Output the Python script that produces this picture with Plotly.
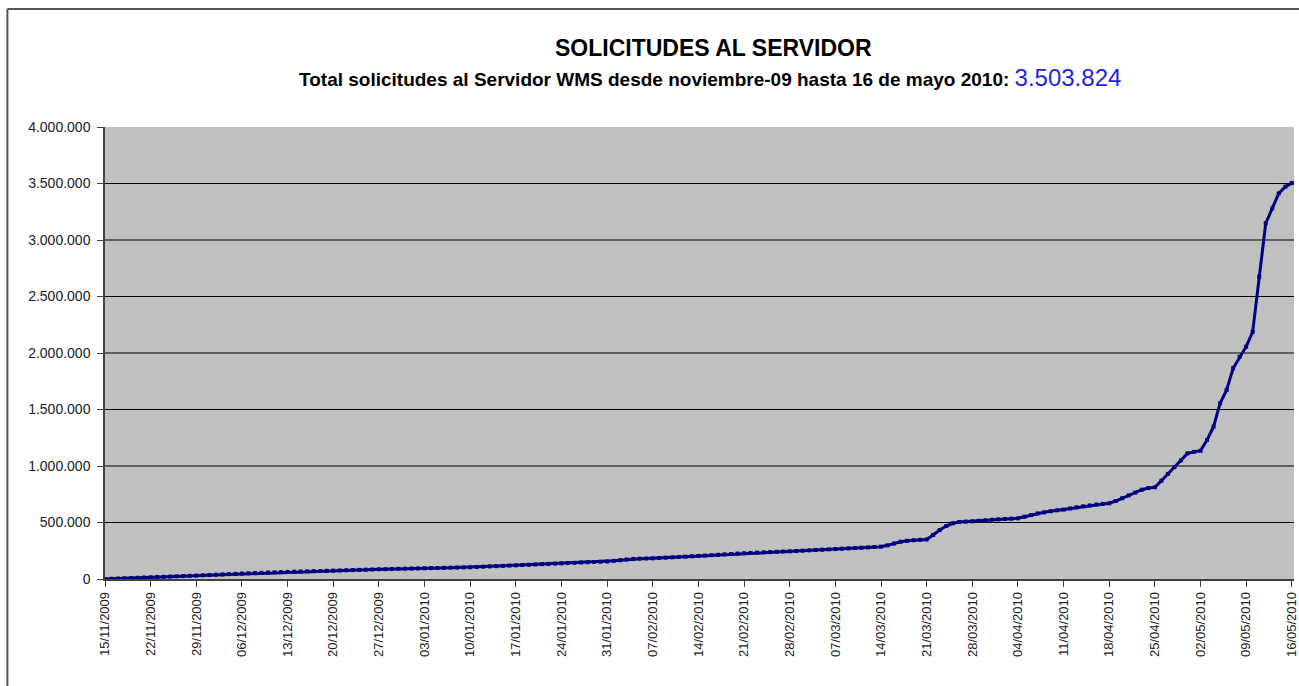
import plotly.graph_objects as go
import pandas as pd

# ---- data (daily cumulative requests, 15/11/2009 .. 16/05/2010) ----
start_date = "2009-11-15"
end_date = "2010-05-16"
requests = [
    0, 2100, 4300, 6500, 8600, 10800, 12900,
    15000, 17100, 19300, 21400, 23600, 25800, 27900,
    30000, 32600, 35200, 37800, 40500, 43100, 45600,
    48000, 50200, 52400, 54500, 56800, 59000, 61000,
    63000, 64600, 66200, 67800, 69400, 71000, 72500,
    74000, 75700, 77400, 79100, 80800, 82500, 84200,
    86000, 87300, 88600, 89900, 91200, 92500, 93800,
    95000, 96300, 97600, 98900, 100200, 101500, 102800,
    104000, 106400, 108800, 111300, 113800, 116300, 118700,
    121000, 123600, 126200, 128800, 131400, 134000, 136500,
    139000, 141300, 143600, 145900, 148200, 150500, 152800,
    155000, 160500, 166200, 172000, 178000, 180000, 181500,
    183000, 186000, 189000, 192000, 195000, 198000, 201000,
    204000, 207500, 211000, 214500, 218000, 221500, 225000,
    228000, 230500, 233000, 235500, 238000, 240500, 243000,
    245000, 248000, 250800, 253700, 256600, 259400, 262200,
    265000, 268000, 271000, 274000, 277000, 280000, 283000,
    286000, 298000, 314000, 330000, 338000, 343000, 347000,
    350000, 390000, 434000, 469000, 493000, 505000, 508000,
    510000, 515000, 520000, 524000, 528000, 531000, 534000,
    537000, 551000, 566000, 580000, 590000, 600000, 608000,
    614000, 624000, 634000, 643000, 651000, 659000, 665000,
    670000, 690000, 715000, 740000, 765000, 790000, 805000,
    812000, 870000, 930000, 990000, 1050000, 1112000, 1125000,
    1135000, 1230000, 1348000, 1555000, 1673000, 1865000, 1967000,
    2056000, 2188000, 2675000, 3148000, 3280000, 3413000, 3472000,
    3503824,
]
dates = pd.date_range(start_date, end_date, freq="D")

y_ticks = [0, 500000, 1000000, 1500000, 2000000, 2500000, 3000000, 3500000, 4000000]
y_labels = ["0", "500.000", "1.000.000", "1.500.000", "2.000.000",
            "2.500.000", "3.000.000", "3.500.000", "4.000.000"]
grid_values = [500000, 1000000, 1500000, 2000000, 2500000, 3000000, 3500000]

title_text = "SOLICITUDES AL SERVIDOR"
subtitle_text = "Total solicitudes al Servidor WMS desde noviembre-09 hasta 16 de mayo 2010: "
total_text = "3.503.824"

FONT = "Arial, 'Liberation Sans', sans-serif"

fig = go.Figure()
fig.add_trace(go.Scatter(
    x=dates, y=requests, mode="lines+markers",
    line=dict(color="#000080", width=3),
    marker=dict(color="#000080", size=4, symbol="square"),
    cliponaxis=False, showlegend=False,
))

shapes = []
for g in grid_values:
    shapes.append(dict(type="line", xref="paper", yref="y", x0=0, x1=1, y0=g, y1=g,
                       line=dict(color="#000000", width=1), layer="below"))
# outer chart frame (left and top edges visible)
shapes.append(dict(type="line", xref="paper", yref="paper", x0=-0.0821, x1=-0.0821,
                   y0=-0.35, y1=1.2611, line=dict(color="#555555", width=2)))
shapes.append(dict(type="line", xref="paper", yref="paper", x0=-0.0821, x1=1.05,
                   y0=1.2611, y1=1.2611, line=dict(color="#555555", width=2)))

fig.update_layout(
    width=1299, height=686,
    margin=dict(l=105, r=0, t=127, b=107),
    paper_bgcolor="white", plot_bgcolor="#C0C0C0",
    font=dict(family=FONT, color="#000000"),
    shapes=shapes,
    annotations=[
        dict(text="<b>" + title_text + "</b>", xref="paper", yref="paper",
             x=0.5115, y=1.175, xanchor="center", yanchor="middle", showarrow=False,
             font=dict(size=23, family=FONT, color="#000000")),
        dict(text="<b>" + subtitle_text + "</b><span style='color:#1f1fe0;font-size:24px'>" + total_text + "</span>",
             xref="paper", yref="paper", x=0.5085, y=1.11, xanchor="center", yanchor="middle",
             showarrow=False, font=dict(size=19, family=FONT, color="#000000")),
    ],
    xaxis=dict(
        type="date", range=["2009-11-15", "2010-05-16 08:00"],
        tick0="2009-11-15", dtick=7 * 24 * 3600 * 1000, tickformat="%d/%m/%Y",
        tickangle=-90, ticks="outside", ticklen=6, tickcolor="#404040",
        ticklabeloverflow="allow",
        showline=True, linecolor="#404040", linewidth=1.5, showgrid=False, zeroline=False,
        tickfont=dict(size=13, color="#222222", family=FONT),
    ),
    yaxis=dict(
        range=[0, 4000000], tickvals=y_ticks, ticktext=y_labels,
        ticks="outside", ticklen=6, tickcolor="#404040", ticklabelstandoff=4,
        showline=True, linecolor="#404040", linewidth=1.5, showgrid=False, zeroline=False,
        tickfont=dict(size=14, color="#222222", family=FONT),
    ),
)

clip_js = (
    "var st=document.createElement('style');"
    "st.textContent='html,body{margin:0;overflow:hidden;width:1299px;}"
    ".plotly-graph-div,.svg-container{overflow:hidden !important;}"
    ".main-svg{overflow:hidden !important;}';"
    "document.head.appendChild(st);"
)
fig.write_html("out.html", config={"displayModeBar": False}, post_script=clip_js)
